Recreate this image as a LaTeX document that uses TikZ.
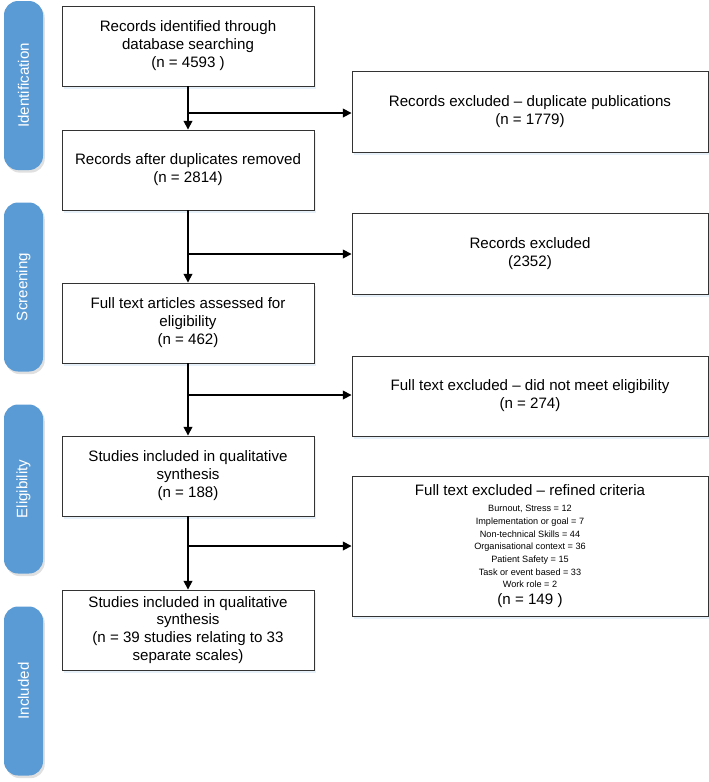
\documentclass[tikz,border=0pt]{standalone}
\usepackage{fontspec}
\setmainfont{Liberation Sans}
\usepackage{tikz}
\usetikzlibrary{arrows.meta, shadows}
\definecolor{tabblue}{HTML}{5B9BD5}
\newcommand{\critsize}{\fontsize{5.2}{6.2}\selectfont}

\tikzset{
  box/.style={draw=black!80, fill=white, line width=0.5pt, align=center,
    font=\fontsize{8.6}{10.2}\selectfont, inner sep=2pt,
    drop shadow={shadow xshift=1pt, shadow yshift=-1.5pt, fill=tabblue!25, opacity=0.6}},
  phase/.style={fill=tabblue, rounded corners=8pt, text=white,
    font=\fontsize{8.6}{10}\selectfont, rotate=90,
    drop shadow={shadow xshift=1pt, shadow yshift=-1.5pt, fill=black!30, opacity=0.4}},
  flow/.style={line width=0.9pt, -{Triangle[length=5pt, width=5pt]}},
}

\begin{document}
\begin{tikzpicture}[x=0.02cm, y=-0.02cm]
  \useasboundingbox (0,0) rectangle (709,782);

  % phase tabs
  \node[phase, minimum width=169*0.02cm, minimum height=39*0.02cm] (tabI) at (23.5,85.5) {Identification};
  \node[phase, minimum width=169*0.02cm, minimum height=39*0.02cm] (tabS) at (23.5,287) {Screening};
  \node[phase, minimum width=169*0.02cm, minimum height=39*0.02cm] (tabE) at (23.5,489) {Eligibility};
  \node[phase, minimum width=169*0.02cm, minimum height=39*0.02cm] (tabN) at (23.5,691) {Included};

  % main column
  \node[box, minimum width=252*0.02cm, minimum height=80*0.02cm] (ident) at (188,46)
    {Records identified through\\database searching\\(n = 4593 )};
  \node[box, minimum width=252*0.02cm, minimum height=80*0.02cm] (dedup) at (188,170)
    {Records after duplicates removed\\(n = 2814)};
  \node[box, minimum width=252*0.02cm, minimum height=80*0.02cm] (full) at (188,323)
    {Full text articles assessed for\\eligibility\\(n = 462)};
  \node[box, minimum width=252*0.02cm, minimum height=80*0.02cm] (qual) at (188,476)
    {Studies included in qualitative\\synthesis\\(n = 188)};
  \node[box, minimum width=252*0.02cm, minimum height=80*0.02cm] (final) at (188,630)
    {Studies included in qualitative\\synthesis\\(n = 39 studies relating to 33\\separate scales)};

  % exclusions
  \node[box, minimum width=356*0.02cm, minimum height=81*0.02cm] (exDup) at (530,111.5)
    {Records excluded -- duplicate publications\\(n = 1779)};
  \node[box, minimum width=356*0.02cm, minimum height=81*0.02cm] (exScr) at (530,253.5)
    {Records excluded\\(2352)};
  \node[box, minimum width=356*0.02cm, minimum height=80*0.02cm] (exElig) at (530,396)
    {Full text excluded -- did not meet eligibility\\(n = 274)};
  \node[box, minimum width=356*0.02cm, minimum height=140*0.02cm] (exRef) at (530,546)
    {Full text excluded -- refined criteria\\[-1pt]
     {\critsize Burnout, Stress = 12}\\[-3pt]
     {\critsize Implementation or goal = 7}\\[-3pt]
     {\critsize Non-technical Skills = 44}\\[-3pt]
     {\critsize Organisational context = 36}\\[-3pt]
     {\critsize Patient Safety = 15}\\[-3pt]
     {\critsize Task or event based = 33}\\[-3pt]
     {\critsize Work role = 2}\\[-1pt]
     (n = 149 )};

  % branch points
  \coordinate (b1) at (188,113);
  \coordinate (b2) at (188,254);
  \coordinate (b3) at (188,395);
  \coordinate (b4) at (188,546);

  \draw[flow] (ident) -- (dedup);
  \draw[flow] (dedup) -- (full);
  \draw[flow] (full) -- (qual);
  \draw[flow] (qual) -- (final);
  \draw[flow] (b1) -- (b1 -| exDup.west);
  \draw[flow] (b2) -- (b2 -| exScr.west);
  \draw[flow] (b3) -- (b3 -| exElig.west);
  \draw[flow] (b4) -- (b4 -| exRef.west);
\end{tikzpicture}
\end{document}
